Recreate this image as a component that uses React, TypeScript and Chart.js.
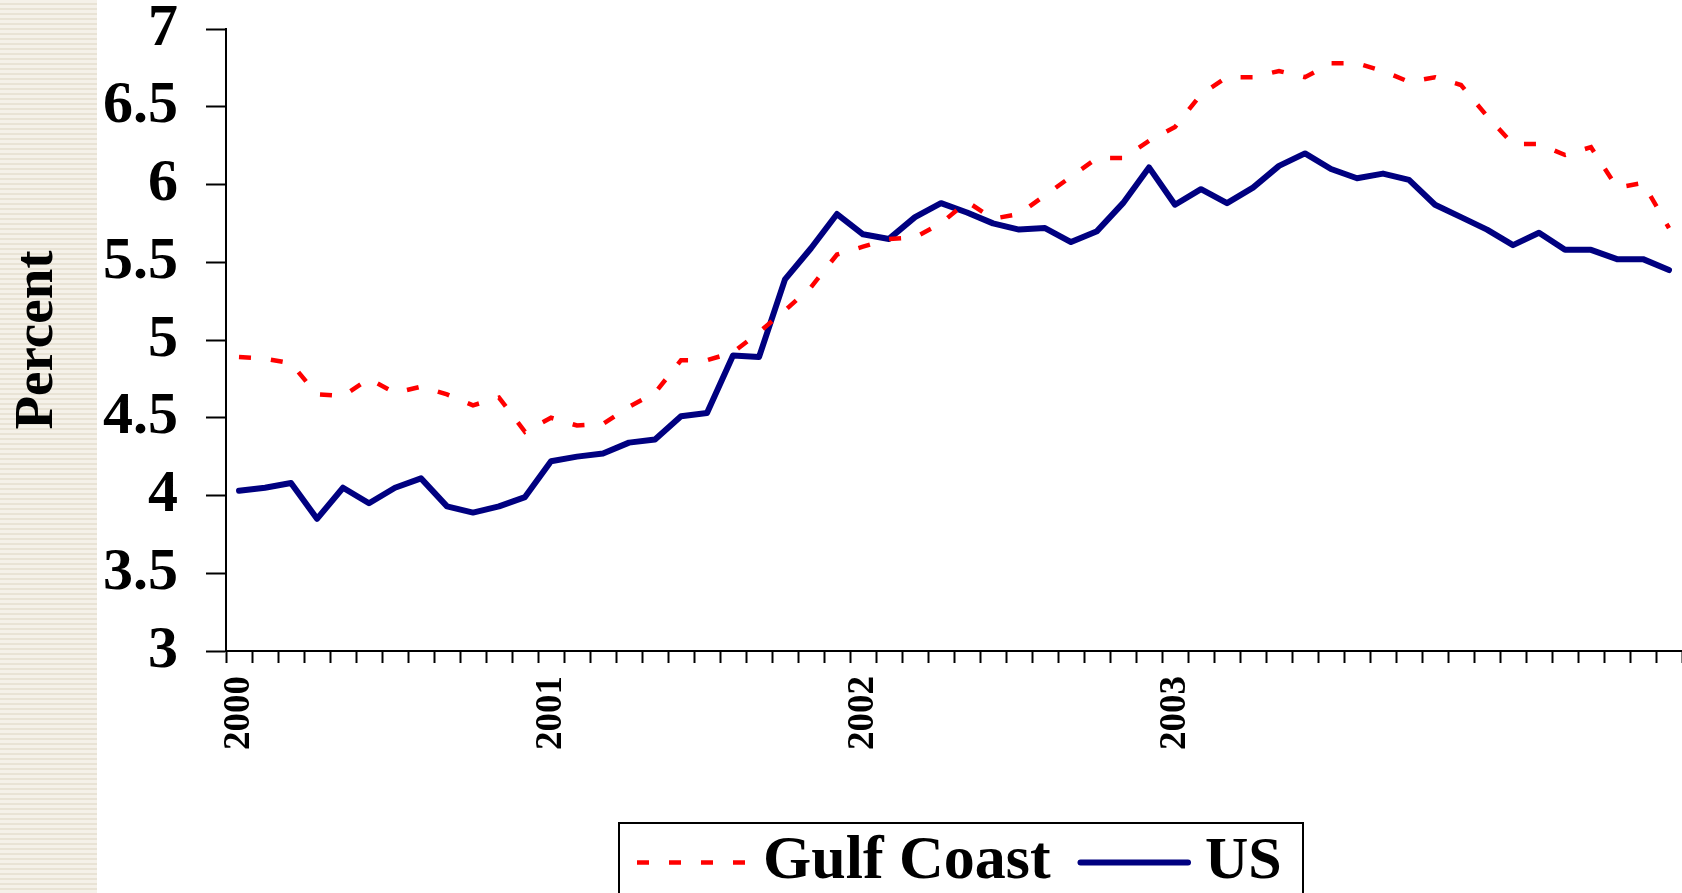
import React, { useEffect, useRef } from "react";
import { Chart, registerables } from "chart.js";

Chart.register(...registerables);

// ---- data ----
const categories = [
  "2000-01", "2000-02", "2000-03", "2000-04", "2000-05", "2000-06", "2000-07", "2000-08", "2000-09", "2000-10", "2000-11", "2000-12",
  "2001-01", "2001-02", "2001-03", "2001-04", "2001-05", "2001-06", "2001-07", "2001-08", "2001-09", "2001-10", "2001-11", "2001-12",
  "2002-01", "2002-02", "2002-03", "2002-04", "2002-05", "2002-06", "2002-07", "2002-08", "2002-09", "2002-10", "2002-11", "2002-12",
  "2003-01", "2003-02", "2003-03", "2003-04", "2003-05", "2003-06", "2003-07", "2003-08", "2003-09", "2003-10", "2003-11", "2003-12",
  "2004-01", "2004-02", "2004-03", "2004-04", "2004-05", "2004-06", "2004-07", "2004-08",
];

const yearTickLabels = ["2000", "2001", "2002", "2003"];

const gulfCoast = [
  4.89, 4.88, 4.85, 4.65, 4.64, 4.75, 4.66, 4.70, 4.65, 4.58, 4.63, 4.41,
  4.50, 4.45, 4.46, 4.57, 4.66, 4.87, 4.87, 4.92, 5.05, 5.19, 5.34, 5.55,
  5.60, 5.65, 5.66, 5.75, 5.89, 5.78, 5.81, 5.93, 6.05, 6.17, 6.17, 6.28,
  6.37, 6.58, 6.69, 6.69, 6.73, 6.69, 6.78, 6.78, 6.73, 6.66, 6.69, 6.64,
  6.44, 6.26, 6.26, 6.19, 6.24, 5.98, 6.01, 5.72,
];

const us = [
  4.03, 4.05, 4.08, 3.85, 4.05, 3.95, 4.05, 4.11, 3.93, 3.89, 3.93, 3.99,
  4.22, 4.25, 4.27, 4.34, 4.36, 4.51, 4.53, 4.90, 4.89, 5.39, 5.59, 5.81,
  5.68, 5.65, 5.79, 5.88, 5.82, 5.75, 5.71, 5.72, 5.63, 5.70, 5.88, 6.11,
  5.87, 5.97, 5.88, 5.98, 6.12, 6.20, 6.10, 6.04, 6.07, 6.03, 5.87, 5.79,
  5.71, 5.61, 5.69, 5.58, 5.58, 5.52, 5.52, 5.45,
];

const yTickLabels = ["3", "3.5", "4", "4.5", "5", "5.5", "6", "6.5", "7"];
const seriesNames = ["Gulf Coast", "US"];
const yMin = 3;
const yMax = 7;
const yStep = 0.5;

const SERIF = '"Liberation Serif", "Times New Roman", serif';
const RED = "#FF0000";
const NAVY = "#000080";

export default function App() {
  const ref = useRef<HTMLCanvasElement>(null);

  useEffect(() => {
    const canvas = ref.current;
    if (!canvas) return;

    const boxLegend = {
      id: "boxLegend",
      afterDraw(chart: any) {
        const ctx = chart.ctx as CanvasRenderingContext2D;
        const ds = chart.data.datasets;
        ctx.save();
        ctx.strokeStyle = "#000";
        ctx.lineWidth = 2;
        ctx.setLineDash([]);
        ctx.strokeRect(619, 823, 684, 140);
        const lineY = 862.5;
        const items = [
          { x0: 637, x1: 746, tx: 763, size: 62 },
          { x0: 1080.5, x1: 1188, tx: 1205, size: 60 },
        ];
        items.forEach((it, i) => {
          const d = ds[i];
          ctx.save();
          ctx.strokeStyle = d.borderColor;
          ctx.lineWidth = d.borderWidth;
          ctx.setLineDash(d.borderDash || []);
          ctx.lineCap = d.borderCapStyle || "butt";
          ctx.beginPath();
          ctx.moveTo(it.x0, lineY);
          ctx.lineTo(it.x1, lineY);
          ctx.stroke();
          ctx.restore();
          ctx.fillStyle = "#000";
          ctx.font = `bold ${it.size}px ${SERIF}`;
          ctx.textAlign = "left";
          ctx.textBaseline = "alphabetic";
          ctx.fillText(d.label, it.tx, 878);
        });
        ctx.restore();
      },
    };

    const chart = new Chart(canvas, {
      type: "line",
      data: {
        labels: categories,
        datasets: [
          {
            label: seriesNames[0],
            data: gulfCoast,
            borderColor: RED,
            backgroundColor: RED,
            borderWidth: 4.5,
            borderDash: [12, 20],
            borderCapStyle: "butt",
            borderJoinStyle: "miter",
            pointRadius: 0,
            pointHoverRadius: 0,
            tension: 0,
            fill: false,
          },
          {
            label: seriesNames[1],
            data: us,
            borderColor: NAVY,
            backgroundColor: NAVY,
            borderWidth: 6,
            borderCapStyle: "round",
            borderJoinStyle: "round",
            pointRadius: 0,
            pointHoverRadius: 0,
            tension: 0,
            fill: false,
          },
        ],
      },
      options: {
        animation: false,
        responsive: false,
        devicePixelRatio: 1,
        layout: { padding: { top: 29, left: 0, right: 0, bottom: 0 } },
        plugins: {
          legend: { display: false },
          tooltip: { enabled: false },
          title: { display: false },
        },
        scales: {
          x: {
            type: "category",
            offset: true,
            grid: {
              offset: true,
              drawOnChartArea: false,
              drawTicks: true,
              tickLength: 12,
              tickWidth: 2,
              tickColor: "#000",
            },
            border: { display: true, color: "#000", width: 2 },
            ticks: {
              autoSkip: false,
              maxRotation: 90,
              minRotation: 90,
              padding: 13,
              color: "#000",
              font: { family: SERIF, size: 37, weight: "bold", lineHeight: 1 },
              callback: (_v: any, index: number) => {
                const c = categories[index];
                const yr = c.slice(0, 4);
                return c.endsWith("-01") && yearTickLabels.includes(yr) ? yr : "";
              },
            },
            afterFit: (scale: any) => {
              scale.height = 242;
              scale.paddingLeft = 0;
              scale.paddingRight = 0;
            },
          },
          y: {
            min: yMin,
            max: yMax,
            grid: {
              drawOnChartArea: false,
              drawTicks: true,
              tickLength: 20,
              tickWidth: 2,
              tickColor: "#000",
            },
            border: { display: true, color: "#000", width: 2 },
            ticks: {
              stepSize: yStep,
              padding: 28,
              color: "#000",
              font: { family: SERIF, size: 60, weight: "bold", lineHeight: 0.95 },
              callback: (v: any) => {
                const idx = Math.round((Number(v) - yMin) / yStep);
                return yTickLabels[idx] ?? String(v);
              },
            },
            title: {
              display: true,
              text: "Percent",
              color: "#000",
              padding: { top: 5, bottom: 0 },
              font: { family: SERIF, size: 55, weight: "bold", lineHeight: 1.2 },
            },
            afterFit: (scale: any) => {
              scale.width = 226;
              scale.paddingTop = 0;
              scale.paddingBottom = 0;
            },
          },
        },
      } as any,
      plugins: [boxLegend],
    });

    return () => chart.destroy();
  }, []);

  return (
    <div
      style={{
        position: "fixed",
        left: 0,
        top: 0,
        width: 1682,
        height: 893,
        background: "#ffffff",
        overflow: "hidden",
      }}
    >
      <div
        style={{
          position: "absolute",
          left: 0,
          top: 0,
          width: 97,
          height: 893,
          background:
            "repeating-linear-gradient(180deg, #f5f1e9 0px, #f5f1e9 3px, #e9e3d5 3px, #e9e3d5 5px)",
        }}
      />
      <canvas
        ref={ref}
        width={1682}
        height={893}
        style={{ position: "absolute", left: 0, top: 0, width: 1682, height: 893 }}
      />
    </div>
  );
}
